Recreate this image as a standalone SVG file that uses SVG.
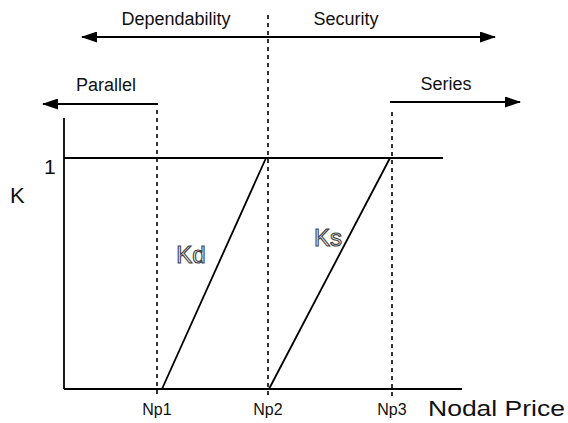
<svg xmlns="http://www.w3.org/2000/svg" width="568" height="423" viewBox="0 0 568 423">
<defs>
<marker id="ah" markerWidth="16" markerHeight="11" refX="15" refY="5.5" orient="auto-start-reverse" markerUnits="userSpaceOnUse">
<path d="M0,0 L16,5.5 L0,11 Z" fill="#000"/>
</marker>
</defs>
<style>
text{font-family:"Liberation Sans",Arial,sans-serif;fill:#111}
.ln{stroke:#000;stroke-width:1.8;fill:none}
.ds{stroke:#000;stroke-width:1.6;stroke-dasharray:4,4;fill:none}
.ar{stroke:#000;stroke-width:1.8;fill:none}
.lbl{font-size:18px;text-anchor:middle}
.np{font-size:16px;text-anchor:middle}
.out{font-size:24px;fill:#f4f4f4;stroke:#444;stroke-width:1.1;text-anchor:middle}
</style>
<rect width="568" height="423" fill="#fff"/>
<g id="connectors">
<line class="ar" x1="82" y1="37" x2="495" y2="37" marker-start="url(#ah)" marker-end="url(#ah)"/>
<line class="ar" x1="158" y1="104" x2="43" y2="104" marker-end="url(#ah)"/>
<line class="ar" x1="390" y1="102" x2="520" y2="102" marker-end="url(#ah)"/>
</g>
<g id="axes">
<line class="ln" x1="64" y1="118" x2="64" y2="389"/>
<line class="ln" x1="64" y1="389" x2="462" y2="389"/>
<line class="ln" x1="64" y1="158" x2="443" y2="158"/>
</g>
<g id="dashes">
<line class="ds" x1="157" y1="110" x2="157" y2="398"/>
<line class="ds" x1="268" y1="15" x2="268" y2="398"/>
<line class="ds" x1="392" y1="112" x2="392" y2="396"/>
</g>
<g id="curves">
<line class="ln" x1="162" y1="389" x2="266" y2="158"/>
<line class="ln" x1="269" y1="389" x2="390" y2="158"/>
</g>
<g id="labels">
<text class="lbl" x="176" y="25">Dependability</text>
<text class="lbl" x="346" y="25">Security</text>
<text class="lbl" x="106" y="91">Parallel</text>
<text class="lbl" x="446" y="90">Series</text>
<text x="44" y="174" style="font-size:21px">1</text>
<text x="10" y="203" style="font-size:22px">K</text>
<text class="out" x="191" y="263">Kd</text>
<text class="out" x="328" y="246">Ks</text>
<text class="np" x="157" y="415">Np1</text>
<text class="np" x="268" y="415">Np2</text>
<text class="np" x="392" y="415">Np3</text>
<text x="428" y="416" style="font-size:22px" textLength="137" lengthAdjust="spacingAndGlyphs">Nodal Price</text>
</g>
</svg>
